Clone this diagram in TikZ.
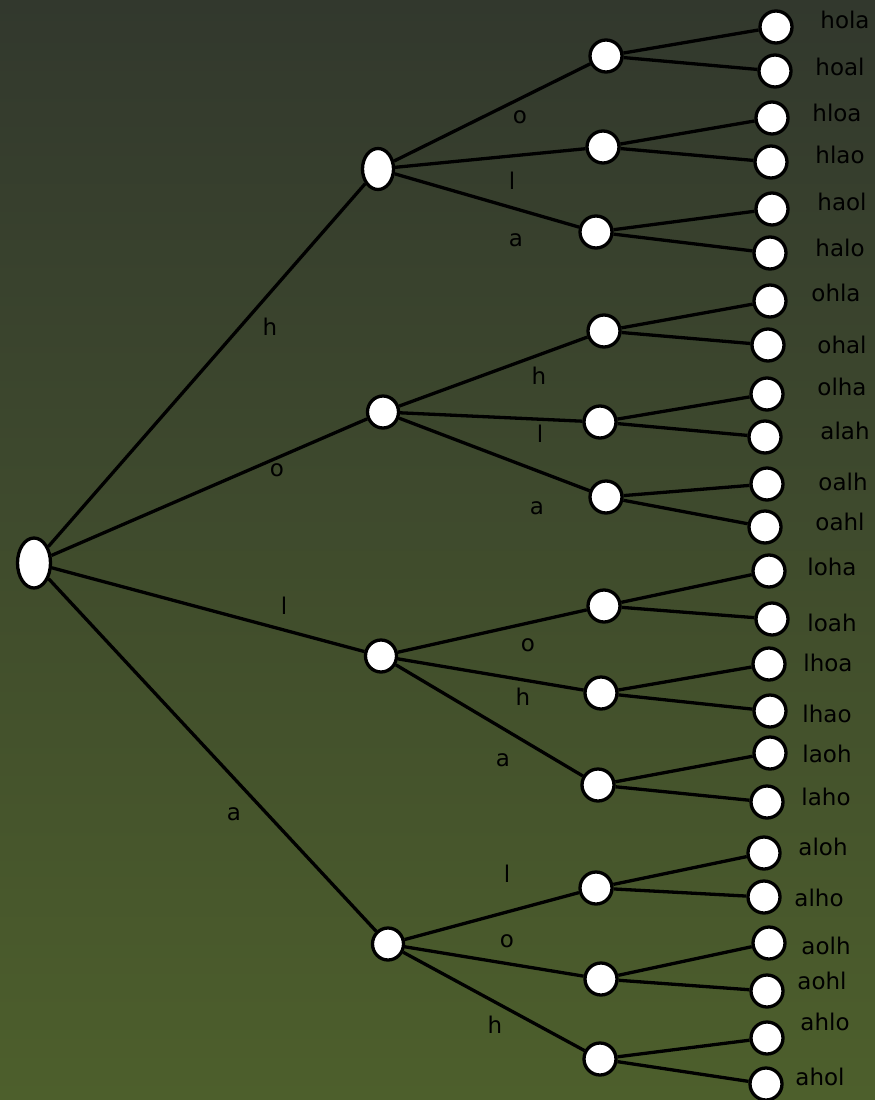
\documentclass[tikz,border=0pt]{standalone}
\usepackage{fontspec}
\setmainfont{DejaVu Sans}
\usetikzlibrary{shapes.geometric}
\definecolor{bgtop}{HTML}{32382D}
\definecolor{bgbottom}{HTML}{4D5F2C}

\begin{document}
\begin{tikzpicture}[x=1pt, y=-1pt, line width=3.3pt,
  vertex/.style={ellipse, draw=black, fill=white, line width=3.3pt,
    inner sep=0pt, minimum width=32pt, minimum height=32pt},
  word/.style={font=\fontsize{23}{23}\selectfont, text=black, inner sep=0pt},
  lab/.style={font=\fontsize{23}{23}\selectfont, text=black, inner sep=0pt}]
% Background
\shade [top color=bgtop, bottom color=bgbottom] (0,0) rectangle (875,1100);
\useasboundingbox (0,0) rectangle (875,1100);
% Root and first level
\node [vertex, minimum width=33pt, minimum height=50pt] (r) at (34,563) {};
\foreach \n/\x/\y/\ht in {h/378/169/41, o/383/412/32, l/381/656/32, a/388/944/32} {
  \node [vertex, minimum width=31pt, minimum height=\ht pt] (\n) at (\x,\y) {};
  \draw (r) -- (\n);
}
% Second level
\foreach \p/\n/\x/\y in {
  h/ho/606/56, h/hl/603/147, h/ha/596/232,
  o/oh/604/331, o/ol/600/422, o/oa/606/497,
  l/lo/604/606, l/lh/601/693, l/la/598/785,
  a/al/596/888, a/ao/601/979, a/ah/600/1059} {
  \node [vertex] (\n) at (\x,\y) {};
  \draw (\p) -- (\n);
}
% Leaves and their words
\foreach \p/\n/\x/\y/\w/\tx/\ty in {
  ho/ho1/776/27/hola/845/20,   ho/ho2/775/71/hoal/840/67,
  hl/hl1/772/118/hloa/837/113, hl/hl2/771/162/hlao/840/155,
  ha/ha1/772/209/haol/842/202, ha/ha2/770/253/halo/840/248,
  oh/oh1/770/301/ohla/836/293, oh/oh2/768/345/ohal/842/345,
  ol/ol1/767/394/olha/842/387, ol/ol2/765/437/alah/845/431,
  oa/oa1/767/484/oalh/843/482, oa/oa2/765/527/oahl/840/522,
  lo/lo1/769/571/loha/832/567, lo/lo2/772/619/loah/832/623,
  lh/lh1/769/664/lhoa/828/663, lh/lh2/770/711/lhao/827/714,
  la/la1/770/753/laoh/827/754, la/la2/767/802/laho/826/797,
  al/al1/764/853/aloh/823/847, al/al2/764/897/alho/819/898,
  ao/ao1/769/943/aolh/826/946, ao/ao2/767/991/aohl/822/981,
  ah/ah1/767/1038/ahlo/825/1022, ah/ah2/766/1084/ahol/820/1077} {
  \node [vertex] (\n) at (\x,\y) {};
  \node [word] (w-\n) at (\tx,\ty) {\w};
  \draw (\p) -- (\n);
}
% Edge labels
\foreach \n/\x/\y/\t in {
  h/270/327/h, o/277/470/o, l/284/606/l, a/234/814/a,
  ho/520/117/o, hl/512/181/l, ha/516/240/a,
  oh/539/376/h, ol/540/434/l, oa/537/508/a,
  lo/528/645/o, lh/523/697/h, la/503/760/a,
  al/507/874/l, ao/507/941/o, ah/495/1025/h} {
  \node [lab] (t-\n) at (\x,\y) {\t};
}
\end{tikzpicture}
\end{document}
